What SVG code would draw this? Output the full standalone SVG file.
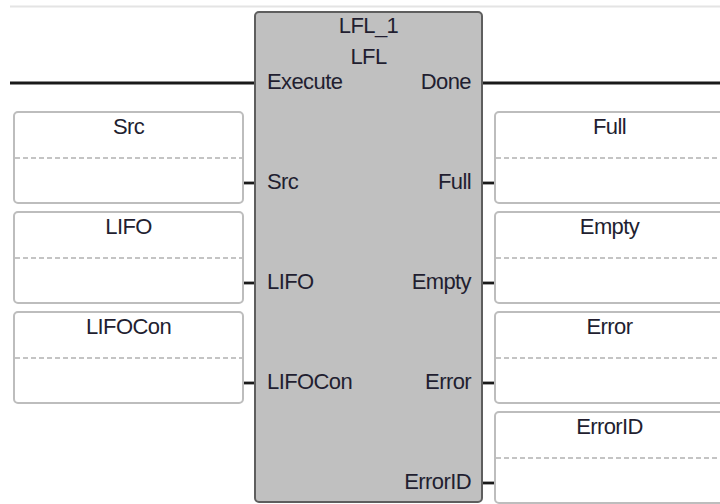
<svg xmlns="http://www.w3.org/2000/svg" width="720" height="504" viewBox="0 0 720 504">
<style>
text{font-family:"Liberation Sans",Arial,sans-serif;font-size:22px;letter-spacing:-0.6px;fill:#221e30}
.c{text-anchor:middle}
.e{text-anchor:end}
.box{fill:#fff;stroke:#bdbdbd;stroke-width:2}
.dash{stroke:#c4c4c4;stroke-width:2;stroke-dasharray:5 3}
.wire{stroke:#1a1a1a;stroke-width:2.8;fill:none}
.blk{fill:#c0c0c0;stroke:#5e5e5e;stroke-width:2}
</style>
<rect x="0" y="0" width="720" height="504" fill="#fff"/>
<line x1="10" y1="6.5" x2="720" y2="6.5" stroke="#e4e4e4" stroke-width="2"/>
<g id="connectors">
<line class="wire" x1="10" y1="83" x2="255" y2="83"/>
<line class="wire" x1="483" y1="83" x2="720" y2="83"/>
<line class="wire" x1="237" y1="183" x2="255" y2="183"/>
<line class="wire" x1="237" y1="283" x2="255" y2="283"/>
<line class="wire" x1="237" y1="383" x2="255" y2="383"/>
<line class="wire" x1="483" y1="183" x2="501" y2="183"/>
<line class="wire" x1="483" y1="283" x2="501" y2="283"/>
<line class="wire" x1="483" y1="383" x2="501" y2="383"/>
<line class="wire" x1="483" y1="483" x2="501" y2="483"/>
</g>
<g id="LFL_1">
<rect class="blk" x="255" y="12" width="227" height="490" rx="4"/>
<text class="c" x="368.5" y="33">LFL_1</text>
<text class="c" x="368.5" y="64">LFL</text>
<text x="267" y="89">Execute</text>
<text class="e" x="471" y="89">Done</text>
<text x="267" y="189">Src</text>
<text x="267" y="289">LIFO</text>
<text x="267" y="389">LIFOCon</text>
<text class="e" x="471" y="189">Full</text>
<text class="e" x="471" y="289">Empty</text>
<text class="e" x="471" y="389">Error</text>
<text class="e" x="471" y="489">ErrorID</text>
</g>
<g id="var_Src">
<rect class="box" x="14" y="112" width="229" height="91" rx="4"/>
<line class="dash" x1="15" y1="158" x2="242" y2="158"/>
<text class="c" x="128.5" y="134">Src</text>
</g>
<g id="var_LIFO">
<rect class="box" x="14" y="212" width="229" height="91" rx="4"/>
<line class="dash" x1="15" y1="258" x2="242" y2="258"/>
<text class="c" x="128.5" y="234">LIFO</text>
</g>
<g id="var_LIFOCon">
<rect class="box" x="14" y="312" width="229" height="91" rx="4"/>
<line class="dash" x1="15" y1="358" x2="242" y2="358"/>
<text class="c" x="128.5" y="334">LIFOCon</text>
</g>
<g id="var_Full">
<rect class="box" x="495" y="112" width="229" height="91" rx="4"/>
<line class="dash" x1="496" y1="158" x2="723" y2="158"/>
<text class="c" x="609.5" y="134">Full</text>
</g>
<g id="var_Empty">
<rect class="box" x="495" y="212" width="229" height="91" rx="4"/>
<line class="dash" x1="496" y1="258" x2="723" y2="258"/>
<text class="c" x="609.5" y="234">Empty</text>
</g>
<g id="var_Error">
<rect class="box" x="495" y="312" width="229" height="91" rx="4"/>
<line class="dash" x1="496" y1="358" x2="723" y2="358"/>
<text class="c" x="609.5" y="334">Error</text>
</g>
<g id="var_ErrorID">
<rect class="box" x="495" y="412" width="229" height="91" rx="4"/>
<line class="dash" x1="496" y1="458" x2="723" y2="458"/>
<text class="c" x="609.5" y="434">ErrorID</text>
</g>
</svg>
